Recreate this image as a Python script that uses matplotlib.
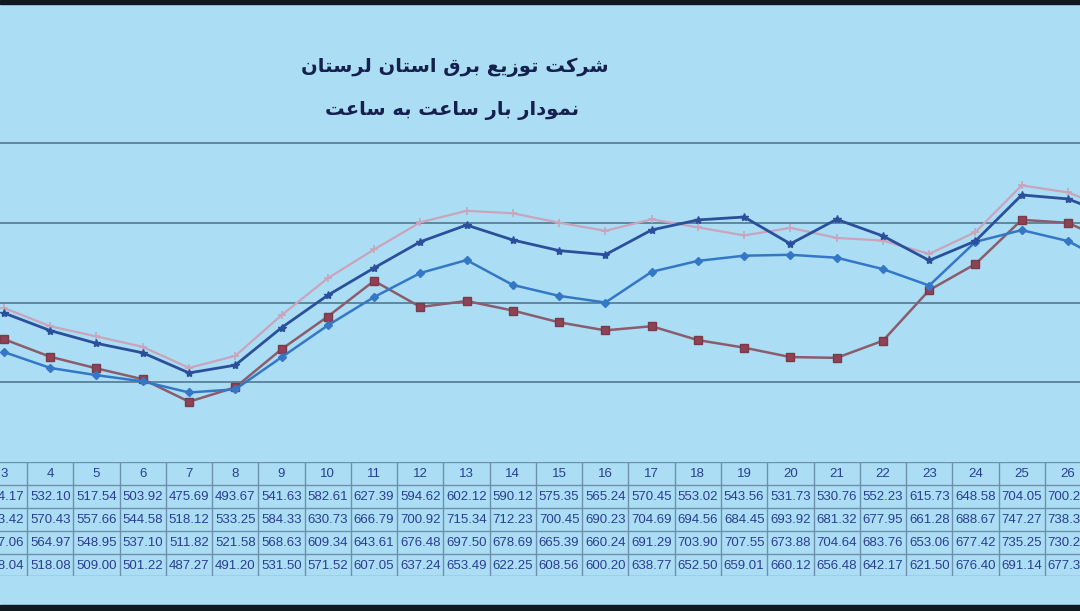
import numpy as np
import matplotlib.pyplot as plt
from matplotlib.patches import Rectangle

hours = [3, 4, 5, 6, 7, 8, 9, 10, 11, 12, 13, 14, 15, 16, 17, 18, 19, 20, 21, 22, 23, 24, 25, 26, 27]
load_a = [554.17, 532.10, 517.54, 503.92, 475.69, 493.67, 541.63, 582.61, 627.39, 594.62, 602.12, 590.12,
          575.35, 565.24, 570.45, 553.02, 543.56, 531.73, 530.76, 552.23, 615.73, 648.58, 704.05, 700.25, 674.0]
load_b = [593.42, 570.43, 557.66, 544.58, 518.12, 533.25, 584.33, 630.73, 666.79, 700.92, 715.34, 712.23,
          700.45, 690.23, 704.69, 694.56, 684.45, 693.92, 681.32, 677.95, 661.28, 688.67, 747.27, 738.35, 716.0]
load_c = [587.06, 564.97, 548.95, 537.10, 511.82, 521.58, 568.63, 609.34, 643.61, 676.48, 697.50, 678.69,
          665.39, 660.24, 691.29, 703.90, 707.55, 673.88, 704.64, 683.76, 653.06, 677.42, 735.25, 730.25, 708.0]
load_d = [538.04, 518.08, 509.00, 501.22, 487.27, 491.20, 531.50, 571.52, 607.05, 637.24, 653.49, 622.25,
          608.56, 600.20, 638.77, 652.50, 659.01, 660.12, 656.48, 642.17, 621.50, 676.40, 691.14, 677.35, 647.0]

title1 = 'شرکت توزیع برق استان لرستان'
title2 = 'نمودار بار ساعت به ساعت'

# (isolated, final, initial, medial) presentation forms
FORMS = {
    'ا': (0xFE8D, 0xFE8E), 'د': (0xFEA9, 0xFEAA), 'ر': (0xFEAD, 0xFEAE),
    'ز': (0xFEAF, 0xFEB0), 'و': (0xFEED, 0xFEEE),
    'ب': (0xFE8F, 0xFE90, 0xFE91, 0xFE92), 'ت': (0xFE95, 0xFE96, 0xFE97, 0xFE98),
    'س': (0xFEB1, 0xFEB2, 0xFEB3, 0xFEB4), 'ش': (0xFEB5, 0xFEB6, 0xFEB7, 0xFEB8),
    'ع': (0xFEC9, 0xFECA, 0xFECB, 0xFECC), 'ق': (0xFED5, 0xFED6, 0xFED7, 0xFED8),
    'ل': (0xFEDD, 0xFEDE, 0xFEDF, 0xFEE0), 'م': (0xFEE1, 0xFEE2, 0xFEE3, 0xFEE4),
    'ن': (0xFEE5, 0xFEE6, 0xFEE7, 0xFEE8), 'ه': (0xFEE9, 0xFEEA, 0xFEEB, 0xFEEC),
    'ک': (0xFB8E, 0xFB8F, 0xFB90, 0xFB91), 'ی': (0xFBFC, 0xFBFD, 0xFBFE, 0xFBFF),
}


def shape(text):
    # join letters with presentation forms, then reverse for right-to-left
    out = []
    for i, ch in enumerate(text):
        if ch not in FORMS:
            out.append(ch)
            continue
        prev = text[i - 1] if i > 0 else ' '
        nxt = text[i + 1] if i + 1 < len(text) else ' '
        join_prev = prev in FORMS and len(FORMS[prev]) == 4
        join_next = nxt in FORMS and len(FORMS[ch]) == 4
        f = FORMS[ch]
        if join_prev and join_next:
            out.append(chr(f[3]))
        elif join_prev:
            out.append(chr(f[1]))
        elif join_next:
            out.append(chr(f[2]))
        else:
            out.append(chr(f[0]))
    return ''.join(out)[::-1]


bg = '#abdef5'
W, H = 1080, 611
fig = plt.figure(figsize=(W / 100, H / 100), dpi=100, facecolor=bg)

x0, x1 = 2.914, 26.26
ax = fig.add_axes([0, (H - 462) / H, 1, 462 / H])
ax.set_facecolor(bg)
ax.set_xlim(x0, x1)
ax.set_ylim(400, 980)
for s in ax.spines.values():
    s.set_visible(False)
ax.set_xticks([])
ax.set_yticks([])
for v in [500, 600, 700, 800]:
    ax.axhline(v, color='#4a7088', lw=1.1, zorder=1)

ax.plot(hours, load_b, color='#c9a4bb', lw=1.6, marker='+', ms=6, mew=1.2, zorder=3)
ax.plot(hours, load_a, color='#8a5c6c', lw=1.8, marker='s', ms=6, mfc='#8e4254', mec='#7a3a4a', zorder=4)
ax.plot(hours, load_d, color='#3477c7', lw=1.8, marker='D', ms=4, zorder=4)
ax.plot(hours, load_c, color='#2b4f9a', lw=2.0, marker='*', ms=6, zorder=5)

tc = '#15204d'
fig.text(455 / W, 1 - 67 / H, shape(title1), fontsize=14, fontweight='bold', color=tc,
         ha='center', va='center', family='DejaVu Sans')
fig.text(452 / W, 1 - 110 / H, shape(title2), fontsize=14, fontweight='bold', color=tc,
         ha='center', va='center', family='DejaVu Sans')

# data table
tab = fig.add_axes([0, (H - 576) / H, 1, 114 / H])
tab.set_facecolor(bg)
tab.set_xlim(x0, x1)
tab.set_ylim(4.95, 0)
tab.axis('off')
rows = [load_a, load_b, load_c, load_d]
lc = '#6f8fb0'
tcol = '#2a3d92'
for yy in [0, 1, 2, 3, 4, 4.95]:
    tab.axhline(yy, color=lc, lw=1)
for i, h in enumerate(hours):
    tab.axvline(h - 0.5, color=lc, lw=1)
    tab.text(h, 0.5, str(h), ha='center', va='center', fontsize=9.5, color=tcol,
             family='Liberation Sans', clip_on=True)
    for r, row in enumerate(rows):
        tab.text(h, r + 1.5, f'{row[i]:.2f}', ha='center', va='center', fontsize=9.5,
                 color=tcol, family='Liberation Sans', clip_on=True)

fig.patches.append(Rectangle((0, 1 - 4 / H), 1, 4 / H, transform=fig.transFigure, color='#101820'))
fig.patches.append(Rectangle((0, 0), 1, 6 / H, transform=fig.transFigure, color='#101820'))

fig.savefig('out.png', dpi=100, facecolor=bg)
